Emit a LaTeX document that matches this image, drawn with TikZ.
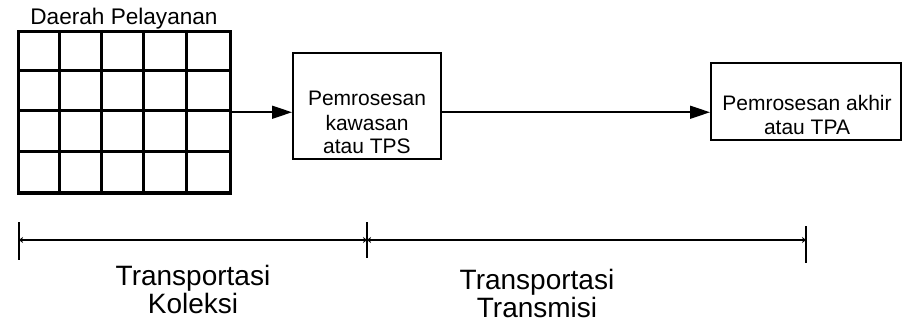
\documentclass[tikz,border=0pt]{standalone}
\usepackage{fontspec}
\setmainfont{Liberation Sans}
\usetikzlibrary{arrows.meta,calc}
\begin{document}
\begin{tikzpicture}[x=1pt,y=-1pt,
  box/.style={draw, line width=2pt, rectangle, inner sep=0pt},
  cellline/.style={line width=3pt},
  flow/.style={line width=1.6pt, -{Triangle[length=20pt,width=13pt]}},
  small/.style={font=\fontsize{21}{24}\selectfont, align=center, inner sep=0pt},
  big/.style={font=\fontsize{28}{28}\selectfont, align=center, inner sep=0pt},
  tickline/.style={line width=2.4pt},
  dim/.style={line width=1.8pt, {Stealth[length=4pt,width=6pt]}-{Stealth[length=4pt,width=6pt]}}]
\useasboundingbox (0,0) rectangle (908,326);

% service area: 5 x 4 cells
\node[draw, cellline, minimum width=211.5pt, minimum height=161.5pt, inner sep=0pt] (area) at (124.25,112.25) {};
\foreach \i in {1,...,4}
  \draw[cellline] ($(area.north west)+(\i*42.3,0)$) -- ($(area.south west)+(\i*42.3,0)$);
\foreach \j in {1,...,3}
  \draw[cellline] ($(area.north west)+(0,\j*40.375)$) -- ($(area.north east)+(0,\j*40.375)$);
\node[small, font=\fontsize{22.6}{26}\selectfont, anchor=base] (areaname) at (124,25) {Daerah Pelayanan};

% processing stations (text anchored at the baseline of its last line)
\node[box, minimum width=148pt, minimum height=106pt] (tps) at (367,106) {};
\node[small, anchor=base] (tpstext) at (367,154) {Pemrosesan\\kawasan\\atau TPS};
\node[box, minimum width=190pt, minimum height=77pt] (tpa) at (806,101.5) {};
\node[small, anchor=base] (tpatext) at (807,135) {Pemrosesan akhir\\atau TPA};

\draw[flow] (area.east) -- (area.east -| tps.west);
\draw[flow] (area.east -| tps.east) -- (area.east -| tpa.west);

% transport stretches
\coordinate (d0) at (19,240);
\coordinate (d1) at (367,240);
\coordinate (d2) at (806,240);
\draw[tickline] ([yshift=18pt]d0) -- ([yshift=-20pt]d0);
\draw[tickline] ([yshift=18pt]d1) -- ([yshift=-18pt]d1);
\draw[tickline] ([yshift=14pt]d2) -- ([yshift=-23pt]d2);
\draw[dim] (d0) -- (d1);
\draw[dim] (d1) -- (d2);

\node[big, anchor=base] (koleksi) at (193,313) {Transportasi\\Koleksi};
\node[big, anchor=base] (transmisi) at (537,317) {Transportasi\\Transmisi};
\end{tikzpicture}
\end{document}
